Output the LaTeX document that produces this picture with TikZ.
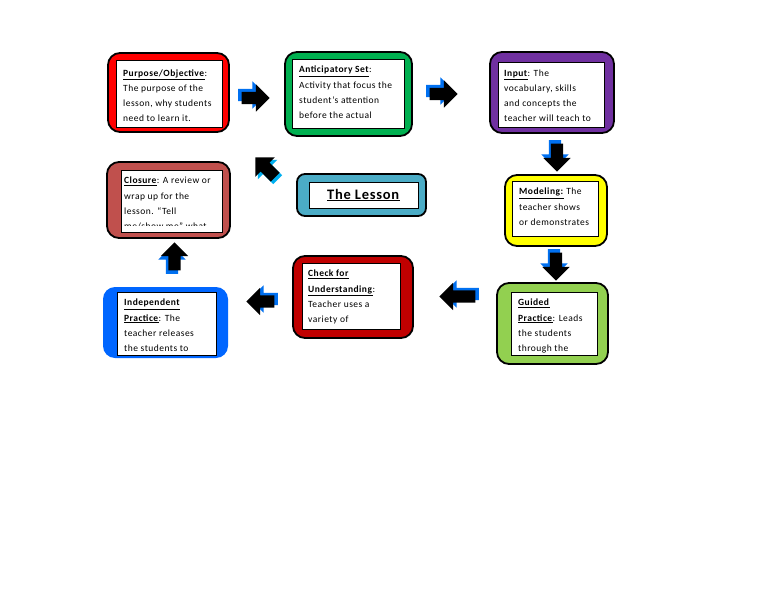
\documentclass[tikz,border=0pt]{standalone}
\usepackage{fontspec}
\setmainfont{Carlito}[LetterSpace=5]
\usetikzlibrary{shapes.arrows}
\definecolor{arrowblue}{HTML}{0070F0}
\definecolor{arrowcyan}{HTML}{00B0F0}
\definecolor{purposered}{HTML}{FF0000}
\definecolor{setgreen}{HTML}{00B050}
\definecolor{inputpurple}{HTML}{7030A0}
\definecolor{modelyellow}{HTML}{FFFF00}
\definecolor{guidedgreen}{HTML}{92D050}
\definecolor{checkred}{HTML}{C00000}
\definecolor{indepblue}{HTML}{0066FF}
\definecolor{closurerose}{HTML}{C0504D}
\definecolor{lessonblue}{HTML}{4BACC6}
\def\hd#1{\underline{\textbf{#1}}}

\begin{document}
\begin{tikzpicture}[x=1pt,y=-1pt]
  \tikzset{outerbox/.style={draw=black,line width=1.8pt,rounded corners=12pt},
    innerbox/.style={draw=black,fill=white,line width=0.8pt},
    boxtext/.style={anchor=north west,align=left,inner sep=0pt,
      font=\fontsize{9.5}{15.2}\selectfont},
    blockarrow/.style={single arrow,inner xsep=0pt,inner ysep=6pt,
      minimum height=28pt,minimum width=0pt,single arrow head extend=7.5pt}}
  \useasboundingbox[fill=white] (0,0) rectangle (768,594);
  % outer boxes
  \node[outerbox,fill=purposered,minimum width=121pt,minimum height=79pt] (purpose) at (168.5,92.5) {};
  \node[outerbox,fill=setgreen,minimum width=127pt,minimum height=84pt] (anticip) at (348.5,94) {};
  \node[outerbox,fill=inputpurple,minimum width=124pt,minimum height=81pt] (input) at (552,92.5) {};
  \node[outerbox,fill=modelyellow,minimum width=102pt,minimum height=71pt] (model) at (556,210.5) {};
  \node[outerbox,fill=guidedgreen,minimum width=111pt,minimum height=81pt] (guided) at (552.5,323.5) {};
  \node[outerbox,fill=checkred,minimum width=120pt,minimum height=82pt] (check) at (353,297) {};
  \node[outerbox,draw=none,fill=indepblue,minimum width=125pt,minimum height=71pt] (indep) at (165.5,322.5) {};
  \node[outerbox,fill=closurerose,minimum width=123pt,minimum height=76pt] (closure) at (168.5,200) {};
  \node[outerbox,rounded corners=8pt,fill=lessonblue,minimum width=129pt,minimum height=42pt] (lesson) at (361.5,195) {};
  % white panels
  \node[innerbox,minimum width=106pt,minimum height=67pt] (purposein) at (169,93.5) {};
  \node[innerbox,minimum width=112pt,minimum height=69pt] (anticipin) at (348,93.5) {};
  \node[innerbox,minimum width=106pt,minimum height=65pt] (inputin) at (551,94.5) {};
  \node[innerbox,minimum width=86pt,minimum height=55pt] (modelin) at (555,208.5) {};
  \node[innerbox,minimum width=86pt,minimum height=63pt] (guidedin) at (554,323.5) {};
  \node[innerbox,minimum width=98pt,minimum height=66pt] (checkin) at (351,296) {};
  \node[innerbox,minimum width=99pt,minimum height=63pt] (indepin) at (166.5,323.5) {};
  \node[innerbox,minimum width=101pt,minimum height=62pt] (closurein) at (171.5,201) {};
  \node[innerbox,minimum width=109pt,minimum height=26pt] (lessonin) at (363.5,195) {};
  % texts
  \node[boxtext] (purposetext) at (123,69.5) {\hd{Purpose/Objective}:\\The purpose of the\\lesson, why students\\need to learn it.};
  \node[boxtext] (anticiptext) at (299,66) {\hd{Anticipatory Set}:\\Activity that focus the\\student’s attention\\before the actual};
  \node[boxtext] (inputtext) at (504,69.5) {\hd{Input}: The\\vocabulary, skills\\and concepts the\\teacher will teach to};
  \node[boxtext] (modeltext) at (519,188) {\hd{Modeling:} The\\teacher shows\\or demonstrates};
  \node[boxtext] (guidedtext) at (518,299) {\hd{Guided}\\\hd{Practice}: Leads\\the students\\through the};
  \node[boxtext] (checktext) at (308,270) {\hd{Check for}\\\hd{Understanding}:\\Teacher uses a\\variety of};
  \node[boxtext] (indeptext) at (124,299) {\hd{Independent}\\\hd{Practice}: The\\teacher releases\\the students to};
  \begin{scope}
    \clip (closurein.north west) rectangle ([yshift=6.5pt]closurein.south east);
    \node[boxtext] (closuretext) at (124,177) {\hd{Closure}: A review or\\wrap up for the\\lesson. “Tell\\me/show me” what};
  \end{scope}
  \node[font=\fontsize{14.5}{16}\selectfont] (lessontext) at (lessonin) {\hd{The Lesson}};
  % block arrows
  \node[blockarrow,fill=arrowblue] (arr1) at (249,95) {};
  \node[blockarrow,fill=black,xshift=3.5pt,yshift=-3pt] at (arr1) {};
  \node[blockarrow,fill=arrowblue] (arr2) at (437,91) {};
  \node[blockarrow,fill=black,xshift=3.5pt,yshift=-3pt] at (arr2) {};
  \node[blockarrow,fill=arrowblue,rotate=-90] (arr3) at (555,151) {};
  \node[blockarrow,fill=black,xshift=2pt,yshift=-3.5pt,rotate=-90] at (arr3) {};
  \node[blockarrow,fill=arrowblue,rotate=-90] (arr4) at (554,260) {};
  \node[blockarrow,fill=black,xshift=2pt,yshift=-3.5pt,rotate=-90] at (arr4) {};
  \node[blockarrow,fill=arrowblue,minimum height=36pt,rotate=180] (arr5) at (464,294) {};
  \node[blockarrow,fill=black,minimum height=36pt,xshift=-3.5pt,yshift=-2.5pt,rotate=180] at (arr5) {};
  \node[blockarrow,fill=arrowblue,rotate=180] (arr6) at (267,299) {};
  \node[blockarrow,fill=black,xshift=-3.5pt,yshift=-2.5pt,rotate=180] at (arr6) {};
  \node[blockarrow,fill=arrowblue,rotate=90] (arr7) at (172,263) {};
  \node[blockarrow,fill=black,xshift=2.5pt,yshift=3.5pt,rotate=90] at (arr7) {};
  \node[blockarrow,fill=arrowcyan,rotate=135] (arr8) at (270,172) {};
  \node[blockarrow,fill=black,xshift=-2.5pt,yshift=2.5pt,rotate=135] at (arr8) {};
\end{tikzpicture}
\end{document}
